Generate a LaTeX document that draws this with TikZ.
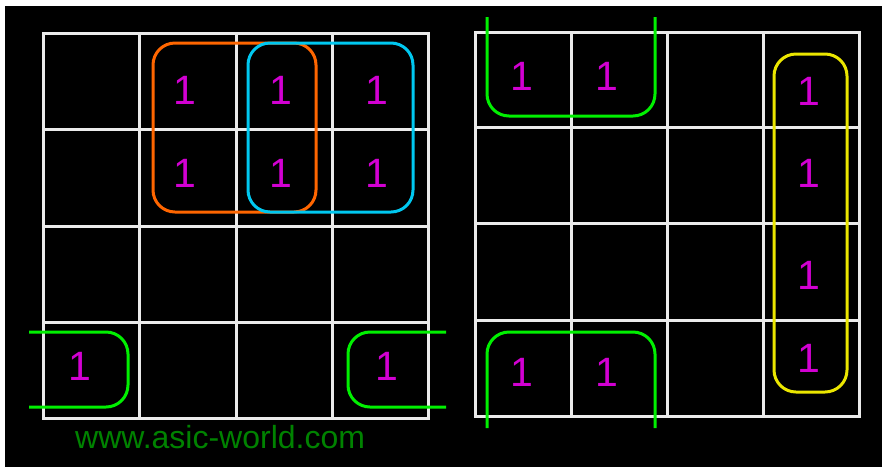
\documentclass[tikz,border=0pt]{standalone}
\usepackage{fontspec}
\setmainfont{Liberation Sans}
\definecolor{gridc}{RGB}{235,235,235}
\definecolor{onec}{RGB}{210,0,210}
\definecolor{orangec}{RGB}{255,102,0}
\definecolor{cyanc}{RGB}{0,200,240}
\definecolor{greenc}{RGB}{0,240,0}
\definecolor{yellowc}{RGB}{235,230,0}
\definecolor{markc}{RGB}{0,130,0}
\begin{document}
\begin{tikzpicture}[x=1pt,y=-1pt,
  gridline/.style={draw=gridc,line width=3pt},
  loop/.style={line width=3pt,rounded corners=22pt},
  one/.style={text=onec,inner sep=0pt,font=\fontsize{41}{41}\selectfont}]
\useasboundingbox (0,0) rectangle (882,467);
\fill[white] (0,0) rectangle (882,467);
\fill[black] (5,6) rectangle (882,467);
% left grid
\draw[gridline] (43,33) rectangle (428,418);
\foreach \x in {139,236,332} \draw[gridline] (\x,33) -- (\x,418);
\foreach \y in {129,226,322} \draw[gridline] (43,\y) -- (428,\y);
% right grid
\draw[gridline] (475,32) rectangle (859,416);
\foreach \x in {571,667,763} \draw[gridline] (\x,32) -- (\x,416);
\foreach \y in {127,223,320} \draw[gridline] (475,\y) -- (859,\y);
% left loops
\draw[loop,draw=orangec] (153,43) rectangle (316,212);
\draw[loop,draw=cyanc] (248,43) rectangle (413,212);
\draw[loop,draw=greenc] (29,332) -- (128,332) -- (128,407) -- (29,407);
\draw[loop,draw=greenc] (446,332) -- (348,332) -- (348,407) -- (446,407);
% right loops
\draw[loop,draw=greenc] (487,17) -- (487,116) -- (655,116) -- (655,17);
\draw[loop,draw=greenc] (487,428) -- (487,332) -- (655,332) -- (655,428);
\draw[loop,draw=yellowc] (774,54) rectangle (847,392);
% ones left
\node[one] (a1) at (185,90) {1};
\node[one] (a2) at (281,90) {1};
\node[one] (a3) at (377,90) {1};
\node[one] (a4) at (185,173) {1};
\node[one] (a5) at (281,173) {1};
\node[one] (a6) at (377,173) {1};
\node[one] (a7) at (80,366) {1};
\node[one] (a8) at (387,366) {1};
% ones right
\node[one] (b1) at (522,76) {1};
\node[one] (b2) at (607,76) {1};
\node[one] (b3) at (809,91) {1};
\node[one] (b4) at (809,173) {1};
\node[one] (b5) at (809,275) {1};
\node[one] (b6) at (809,358) {1};
\node[one] (b7) at (522,372) {1};
\node[one] (b8) at (607,372) {1};
% watermark
\node[text=markc,inner sep=0pt,anchor=base west,font=\fontsize{32}{32}\selectfont] (wm) at (75,448) {www.asic-world.com};
\end{tikzpicture}
\end{document}
